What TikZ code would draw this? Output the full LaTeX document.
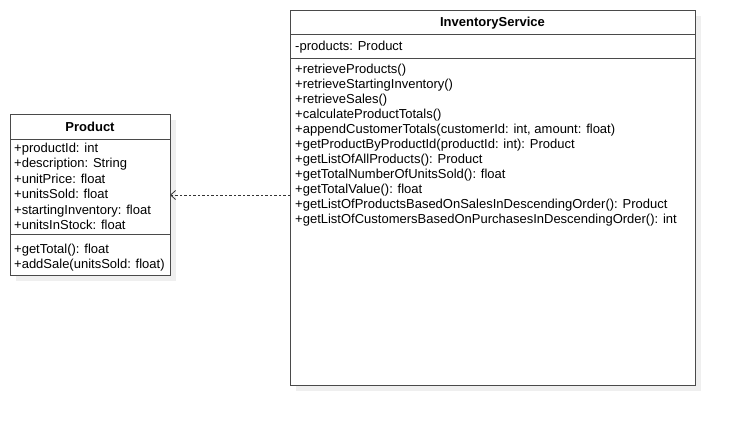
\documentclass[tikz,border=0pt]{standalone}
\usepackage{fontspec}
\setmainfont{Liberation Sans}
\usetikzlibrary{arrows.meta}
\definecolor{shadowgray}{HTML}{EFEFEF}
\definecolor{boxline}{HTML}{4A4A4A}
\begin{document}
\begin{tikzpicture}[x=1pt,y=-1pt,
  umlbox/.style={draw=boxline,line width=1pt,fill=white},
  divider/.style={draw=boxline,line width=0.8pt},
  member/.style={anchor=base west,inner sep=0pt,font=\fontsize{13}{14}\selectfont},
  classtitle/.style={anchor=base,inner sep=0pt,font=\fontsize{13}{14}\selectfont\bfseries},
  dep/.style={draw=black!80,line width=0.8pt,dash pattern=on 2.5pt off 2pt,-{Straight Barb[length=5pt,width=9pt]}}
]
\useasboundingbox (0,0) rectangle (735,426);
% shadows
\fill[shadowgray] (16,120) rectangle (176,281);
\fill[shadowgray] (296,16) rectangle (701,391);
% Product
\draw[umlbox] (10,114) rectangle (170,275);
\coordinate (prodE) at (170,195);
\draw[divider] (10,139) -- (170,139);
\draw[divider] (10,234) -- (170,234);
\node[classtitle] (ptitle) at (90,131) {Product};
\node[member] (p1) at (14,152) {+productId: int};
\node[member] (p2) at (14,167.5) {+description: String};
\node[member] (p3) at (14,183) {+unitPrice: float};
\node[member] (p4) at (14,198.5) {+unitsSold: float};
\node[member] (p5) at (14,214) {+startingInventory: float};
\node[member] (p6) at (14,229.5) {+unitsInStock: float};
\node[member] (pm1) at (14,253) {+getTotal(): float};
\node[member] (pm2) at (14,268.5) {+addSale(unitsSold: float)};
% InventoryService
\draw[umlbox] (290,10) rectangle (695,385);
\coordinate (invW) at (290,195);
\draw[divider] (290,34) -- (695,34);
\draw[divider] (290,58) -- (695,58);
\node[classtitle] (ititle) at (492.5,26.5) {InventoryService};
\node[member] (i0) at (295,50) {-products: Product};
\node[member] (m1) at (295,73) {+retrieveProducts()};
\node[member] (m2) at (295,88) {+retrieveStartingInventory()};
\node[member] (m3) at (295,103) {+retrieveSales()};
\node[member] (m4) at (295,118) {+calculateProductTotals()};
\node[member] (m5) at (295,133) {+appendCustomerTotals(customerId: int, amount: float)};
\node[member] (m6) at (295,148) {+getProductByProductId(productId: int): Product};
\node[member] (m7) at (295,163) {+getListOfAllProducts(): Product};
\node[member] (m8) at (295,178) {+getTotalNumberOfUnitsSold(): float};
\node[member] (m9) at (295,193) {+getTotalValue(): float};
\node[member] (m10) at (295,208) {+getListOfProductsBasedOnSalesInDescendingOrder(): Product};
\node[member] (m11) at (295,223) {+getListOfCustomersBasedOnPurchasesInDescendingOrder(): int};
% dependency
\draw[dep] (invW) -- (prodE);
\end{tikzpicture}
\end{document}
